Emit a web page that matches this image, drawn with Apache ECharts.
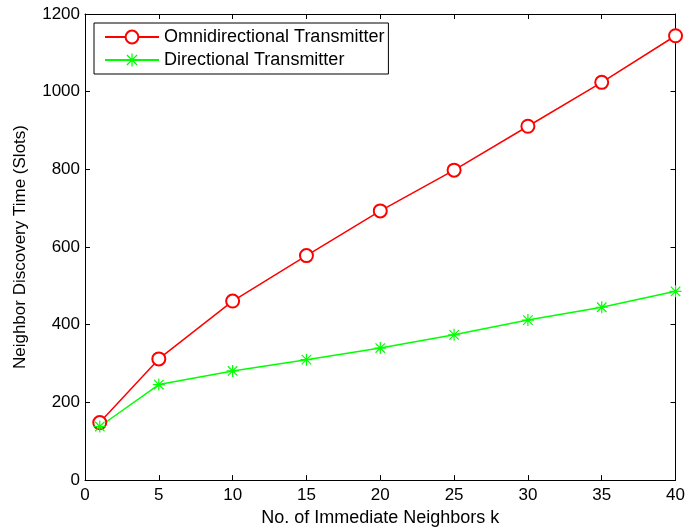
<!DOCTYPE html>
<html>
<head>
<meta charset="utf-8">
<script src="https://cdn.jsdelivr.net/npm/echarts@6/dist/echarts.min.js"></script>
<style>
  html, body { margin: 0; padding: 0; background: #fff; }
  #main { width: 688px; height: 532px; }
</style>
</head>
<body>
<div id="main"></div>
<script>
// neighbours k on the x axis
var kValues = [1, 5, 10, 15, 20, 25, 30, 35, 40];
// discovery time in slots
var omniTime = [148, 312, 461, 578, 693, 798, 911, 1024, 1144];
var dirTime = [138, 246, 281, 310, 340, 374, 412, 445, 486];
var seriesNames = ['Omnidirectional Transmitter', 'Directional Transmitter'];

// asterisk marker, like matlab '*'
var starPath = 'path://M0 4.5H10V5.5H0Z M4.5 0H5.5V10H4.5Z M0.7 1.4L1.4 0.7L9.3 8.6L8.6 9.3Z M8.6 0.7L9.3 1.4L1.4 9.3L0.7 8.6Z';

function pairs(xs, ys) {
    return xs.map(function(x, i) { return [x, ys[i]]; });
}

var font = 'Liberation Sans, Arial, sans-serif';
var myChart = echarts.init(document.getElementById('main'));

var baseAxis = {
    axisLine: { show: true, onZero: false, lineStyle: { color: '#000', width: 1 } },
    axisTick: { show: true, inside: true, length: 5, lineStyle: { color: '#000' } },
    splitLine: { show: false }
};

var option = {
    animation: false,
    backgroundColor: '#fff',
    textStyle: { fontFamily: font },
    grid: { left: 85, right: 6, top: 14, bottom: 49 },
    legend: {
        orient: 'vertical',
        left: 94,
        top: 23,
        backgroundColor: '#fff',
        borderColor: '#000',
        borderWidth: 1,
        borderRadius: 0,
        padding: [5, 4, 5, 10],
        itemGap: 5,
        itemWidth: 54,
        itemHeight: 16,
        textStyle: { fontSize: 18, color: '#000', fontFamily: font },
        data: seriesNames
    },
    xAxis: [
        Object.assign({}, baseAxis, {
            type: 'value', min: 0, max: 40, interval: 5,
            name: 'No. of Immediate Neighbors k',
            nameLocation: 'middle',
            nameGap: 27,
            nameTextStyle: { fontSize: 18, color: '#000', fontFamily: font },
            axisLabel: { fontSize: 17, color: '#000', margin: 7, fontFamily: font }
        }),
        Object.assign({}, baseAxis, {
            type: 'value', min: 0, max: 40, interval: 5, position: 'top',
            axisLabel: { show: false }
        })
    ],
    yAxis: [
        Object.assign({}, baseAxis, {
            type: 'value', min: 0, max: 1200, interval: 200,
            name: 'Neighbor Discovery Time (Slots)',
            nameLocation: 'middle',
            nameGap: 56,
            nameTextStyle: { fontSize: 17, color: '#000', fontFamily: font },
            axisLabel: {
                fontSize: 17, color: '#000', margin: 5, fontFamily: font,
                formatter: function(v) { return String(v); }
            }
        }),
        Object.assign({}, baseAxis, {
            type: 'value', min: 0, max: 1200, interval: 200, position: 'right',
            axisLabel: { show: false }
        })
    ],
    series: [
        {
            name: seriesNames[0],
            type: 'line',
            data: pairs(kValues, omniTime),
            symbol: 'emptyCircle',
            symbolSize: 13,
            color: '#ff0000',
            lineStyle: { color: '#ff0000', width: 1.5 },
            itemStyle: { color: '#ff0000', borderColor: '#ff0000', borderWidth: 1.3 }
        },
        {
            name: seriesNames[1],
            type: 'line',
            data: pairs(kValues, dirTime),
            symbol: starPath,
            symbolSize: 12,
            color: '#00ff00',
            lineStyle: { color: '#00ff00', width: 1.5 },
            itemStyle: { color: '#00ff00' }
        }
    ]
};

myChart.setOption(option);
</script>
</body>
</html>
